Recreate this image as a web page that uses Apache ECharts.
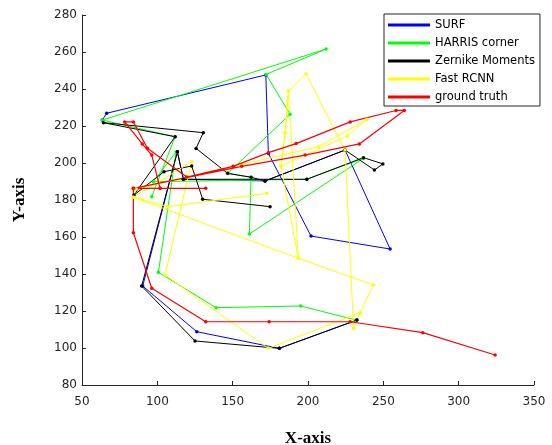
<!DOCTYPE html>
<html><head><meta charset="utf-8">
<script src="https://cdn.jsdelivr.net/npm/echarts@6/dist/echarts.min.js"></script>
<style>html,body{margin:0;padding:0;background:#fff}#c{width:552px;height:445px}</style>
</head><body><div id="c"></div>
<script>
// Tick labels
const xTicks = [50, 100, 150, 200, 250, 300, 350];
const yTicks = [80, 100, 120, 140, 160, 180, 200, 220, 240, 260, 280];
// Series names
const seriesNames = ['SURF', 'HARRIS corner', 'Zernike Moments', 'Fast RCNN', 'ground truth'];

// SURF trajectory
const surfX = [63.5, 66.4, 172.0, 173.7, 202.0, 254.5, 224.6, 171.5, 117.3, 113.3, 90.3, 126.2, 181.0, 232.4];
const surfY = [223.2, 226.9, 247.6, 205.2, 160.5, 153.5, 207.0, 190.3, 191.2, 206.1, 133.5, 108.8, 99.8, 115.1];

// HARRIS corner trajectory
const harrisX = [96.3, 111.8, 63.5, 212.0, 172.2, 188.1, 146.7, 162.2, 161.1, 236.8, 199.2, 97.3, 112.5, 100.7, 139.0, 195.2, 232.4];
const harrisY = [181.8, 214.2, 223.2, 261.6, 247.9, 226.3, 194.4, 192.3, 161.6, 202.5, 191.2, 189.9, 206.0, 140.9, 121.8, 122.7, 115.0];

// Zernike Moments trajectory
const zernX = [174.8, 130.1, 122.8, 104.4, 84.5, 111.8, 64.2, 130.5, 125.7, 146.7, 162.2, 171.5, 224.6, 244.1, 249.7, 236.8, 199.2, 117.3, 113.3, 89.6, 125.0, 181.0, 232.4];
const zernY = [176.4, 180.4, 198.4, 195.3, 182.7, 214.2, 221.8, 216.4, 207.9, 194.4, 192.3, 190.3, 207.0, 196.2, 199.5, 202.9, 191.2, 191.2, 206.1, 133.5, 103.8, 99.8, 115.1];

// Fast RCNN trajectory
const fastX = [172.6, 107.3, 90.3, 84.1, 122.8, 105.1, 173.7, 234.6, 243.4, 193.6, 84.1, 86.0, 206.9, 239.1, 226.2, 182.1, 193.6, 187.0, 184.8, 182.1, 184.8, 187.0, 198.7, 224.6, 230.2, 234.6];
const fastY = [183.6, 176.4, 180.2, 181.5, 200.7, 139.5, 99.8, 119.1, 134.0, 148.5, 181.5, 186.0, 208.8, 223.6, 214.6, 198.4, 148.5, 238.9, 216.4, 198.4, 216.4, 238.9, 248.1, 207.0, 110.6, 119.1];

// Ground truth trajectory
const gtX = [132.1, 101.8, 84.1, 101.8, 96.3, 90.0, 78.3, 84.1, 93.4, 119.5, 150.3, 173.7, 192.1, 228.0, 258.4, 263.9, 234.1, 198.1, 156.0, 84.1, 84.1, 96.3, 132.1, 174.2, 228.0, 276.2, 324.2];
const gtY = [186.3, 186.3, 186.3, 186.3, 204.3, 210.3, 222.2, 222.2, 208.0, 192.4, 198.2, 205.6, 210.5, 222.2, 228.4, 228.4, 210.3, 204.3, 198.2, 186.3, 162.3, 132.3, 114.2, 114.2, 114.2, 108.3, 96.2];

const colors = ['#0000ff', '#00ff00', '#000000', '#ffff00', '#ff0000'];

function pts(xs, ys) { return xs.map((x, i) => [x, ys[i]]); }
function mk(idx, xs, ys, w) {
  return {
    name: seriesNames[idx], type: 'line', data: pts(xs, ys),
    symbol: 'circle', symbolSize: 3.5, showSymbol: true, showAllSymbol: true,
    lineStyle: { color: colors[idx], width: w },
    itemStyle: { color: colors[idx] },
    silent: true, animation: false, clip: false
  };
}

const axisColor = '#262626';
const chart = echarts.init(document.getElementById('c'));
chart.setOption({
  animation: false,
  backgroundColor: '#fff',
  grid: { left: 82, right: 18, top: 15, bottom: 60, containLabel: false, outerBoundsMode: 'none' },
  xAxis: {
    type: 'value', min: xTicks[0], max: xTicks[xTicks.length - 1], interval: xTicks[1] - xTicks[0],
    name: 'X-axis', nameLocation: 'middle', nameGap: 45,
    nameTextStyle: { fontFamily: 'Liberation Serif', fontWeight: 'bold', fontSize: 17, color: '#000' },
    axisLine: { lineStyle: { color: axisColor, width: 1 } },
    axisTick: { inside: true, length: 4, lineStyle: { color: axisColor } },
    axisLabel: { color: axisColor, fontFamily: 'DejaVu Sans', fontSize: 12, margin: 11 },
    splitLine: { show: false }
  },
  yAxis: {
    type: 'value', min: yTicks[0], max: yTicks[yTicks.length - 1], interval: yTicks[1] - yTicks[0],
    name: 'Y-axis', nameLocation: 'middle', nameGap: 54,
    nameTextStyle: { fontFamily: 'Liberation Serif', fontWeight: 'bold', fontSize: 17, color: '#000' },
    axisLine: { show: true, lineStyle: { color: axisColor, width: 1 } },
    axisTick: { show: true, inside: true, length: 4, lineStyle: { color: axisColor } },
    axisLabel: { color: axisColor, fontFamily: 'DejaVu Sans', fontSize: 12, margin: 5 },
    splitLine: { show: false }
  },
  legend: {
    orient: 'vertical', left: 384, top: 14, padding: [5, 5, 3, 4], itemGap: 6,
    itemWidth: 42, itemHeight: 3, icon: 'rect',
    backgroundColor: '#fff', borderColor: axisColor, borderWidth: 1, borderRadius: 0,
    textStyle: { fontFamily: 'DejaVu Sans', fontSize: 11.5, color: '#000' },
    data: seriesNames
  },
  series: [
    mk(0, surfX, surfY, 1),
    mk(1, harrisX, harrisY, 1),
    mk(2, zernX, zernY, 1),
    mk(3, fastX, fastY, 1),
    mk(4, gtX, gtY, 1.2)
  ]
});
</script></body></html>
